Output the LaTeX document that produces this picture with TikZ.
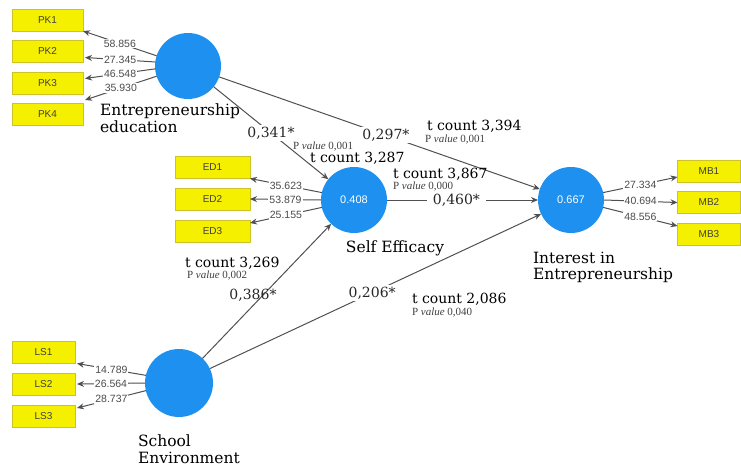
\documentclass[tikz,border=0pt]{standalone}
\usepackage{fontspec}
\setmainfont{DejaVu Serif}
\setsansfont{Liberation Sans}
\newfontfamily\pvfont{Liberation Serif}
\usetikzlibrary{arrows.meta}
\definecolor{latblue}{RGB}{30,144,240}
\definecolor{indyellow}{RGB}{245,240,0}
\definecolor{indedge}{RGB}{205,195,40}
\definecolor{pathgray}{RGB}{80,80,80}
\newcommand{\pv}[1]{{\pvfont P \textit{value} #1}}

\begin{document}
\begin{tikzpicture}[x=1pt,y=-1pt,inner sep=0pt,outer sep=0pt,
latent/.style={circle,fill=latblue,minimum size=66pt,text=white,font=\sffamily\fontsize{11}{11}\selectfont},
indbox/.style={draw=indedge,fill=indyellow,rectangle,minimum width=71pt,minimum height=22pt,text=black!75,font=\sffamily\fontsize{10}{10}\selectfont},
lvname/.style={align=left,text=black,font=\fontsize{15.5}{16.5}\selectfont},
loading/.style={draw=pathgray,line width=1pt,-{Stealth[length=7pt,width=6pt]}},
lnum/.style={fill=white,inner xsep=1pt,inner ysep=1pt,text=black!70,font=\sffamily\fontsize{10.5}{10.5}\selectfont},
coef/.style={fill=white,inner sep=2pt,text=black!85,font=\fontsize{14}{14}\selectfont},
tcount/.style={anchor=west,text=black,font=\fontsize{14}{14}\selectfont},
pval/.style={anchor=west,text=black!75,font=\fontsize{11}{11}\selectfont}]

\useasboundingbox (0,0) rectangle (741,468);

% latent variables
\draw (188,66) node[latent] (ee) {};
\draw (354,200) node[latent] (se) {0.408};
\draw (571,200) node[latent] (ie) {0.667};
\draw (179,383) node[latent,minimum size=68pt] (sch) {};

\draw (100,104) node[lvname,anchor=north west] (eename) {Entrepreneurship\\education};
\draw (395,248) node[lvname] (sename) {Self Efficacy};
\draw (533,252) node[lvname,anchor=north west] (iename) {Interest in\\Entrepreneurship};
\draw (138,435) node[lvname,anchor=north west] (schname) {School\\Environment};

% indicators
\draw (47.5,20) node[indbox] (pk1) {PK1};
\draw (47.5,51.5) node[indbox] (pk2) {PK2};
\draw (47.5,83.5) node[indbox] (pk3) {PK3};
\draw (47.5,114) node[indbox] (pk4) {PK4};
\draw (212.5,167.5) node[indbox,minimum width=75pt] (ed1) {ED1};
\draw (212.5,199) node[indbox,minimum width=75pt] (ed2) {ED2};
\draw (212.5,231) node[indbox,minimum width=75pt] (ed3) {ED3};
\draw (709,171) node[indbox,minimum width=63pt] (mb1) {MB1};
\draw (709,202.5) node[indbox,minimum width=63pt] (mb2) {MB2};
\draw (709,234) node[indbox,minimum width=63pt] (mb3) {MB3};
\draw (43.5,352.5) node[indbox,minimum width=63pt] (ls1) {LS1};
\draw (43.5,384) node[indbox,minimum width=63pt] (ls2) {LS2};
\draw (43.5,416) node[indbox,minimum width=63pt] (ls3) {LS3};

% outer loadings
\draw[loading] (ee.162) -- node[lnum] {58.856} (pk1.south east);
\draw[loading] (ee.173) -- node[lnum] {27.345} ([xshift=2pt,yshift=-6pt]pk2.east);
\draw[loading] (ee.185) -- node[lnum] {46.548} ([xshift=2pt,yshift=5pt]pk3.east);
\draw[loading] (ee.198) -- node[lnum] {35.930} ([xshift=2pt,yshift=14pt]pk4.east);
\draw[loading] (se.167) -- node[lnum] {35.623} (ed1.south east);
\draw[loading] (se.180) -- node[lnum] {53.879} (ed2.east);
\draw[loading] (se.193) -- node[lnum] {25.155} ([yshift=-3pt]ed3.north east);
\draw[loading] (ie.13) -- node[lnum] {27.334} ([yshift=-6pt]mb1.west);
\draw[loading] (ie.0) -- node[lnum] {40.694} (mb2.west);
\draw[loading] (ie.-13) -- node[lnum] {48.556} ([yshift=8pt]mb3.west);
\draw[loading] (sch.167) -- node[lnum] {14.789} ([xshift=2pt]ls1.south east);
\draw[loading] (sch.180) -- node[lnum] {26.564} ([xshift=2pt]ls2.east);
\draw[loading] (sch.193) -- node[lnum] {28.737} ([xshift=2pt,yshift=-3pt]ls3.north east);

% structural paths
\draw[loading] (ee) -- node[coef,pos=0.5] {0,341*} (se);
\draw[loading] (ee) -- node[coef,pos=0.52] {0,297*} (ie);
\draw[loading] (se) -- node[coef,pos=0.46,inner xsep=6pt] {0,460*} (ie);
\draw[loading] (sch) -- node[coef,fill=none,pos=0.47,xshift=-10pt] {0,386*} (se);
\draw[loading] (sch) -- node[coef,pos=0.49] {0,206*} (ie);

\draw (293,146.5) node[pval] (pv1) {\pv{0,001}};
\draw (310,158.5) node[tcount] (tc1) {t count 3,287};
\draw (427,126.5) node[tcount] (tc2) {t count 3,394};
\draw (425,139.5) node[pval] (pv2) {\pv{0,001}};
\draw (393,174) node[tcount] (tc3) {t count 3,867};
\draw (393,186.5) node[pval] (pv3) {\pv{0,000}};
\draw (185,263) node[tcount] (tc4) {t count 3,269};
\draw (187,275.5) node[pval] (pv4) {\pv{0,002}};
\draw (412,299.5) node[tcount] (tc5) {t count 2,086};
\draw (412,312.5) node[pval] (pv5) {\pv{0,040}};
\end{tikzpicture}
\end{document}
